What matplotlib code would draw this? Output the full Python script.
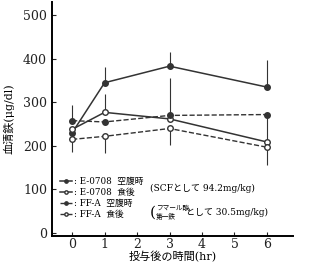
import numpy as np
import matplotlib
matplotlib.use("Agg")
import matplotlib.pyplot as plt

plt.rcParams['font.family'] = ['DejaVu Serif', 'Noto Sans CJK JP']

hours = [0, 1, 3, 6]

# E-0708 fasting / postprandial, FF-A fasting / postprandial  (ug/dl)
e_fast = [230, 345, 383, 335]
e_fast_up = [0, 36, 32, 62]
e_post = [238, 277, 262, 209]
e_post_up = [0, 42, 93, 0]
f_fast = [258, 255, 270, 272]
f_fast_up = [36, 0, 0, 0]
f_fast_dn = [0, 0, 0, 65]
f_post = [215, 222, 240, 197]
f_post_dn = [29, 39, 38, 41]

labels = [': E-0708  空腹時', ': E-0708  食後', ': FF-A  空腹時', ': FF-A  食後']

fig = plt.figure(figsize=(3.15, 2.65), dpi=100)
ax = fig.add_axes([0.165, 0.109, 0.765, 0.883])
c = '#333333'

ax.errorbar(hours, e_fast, yerr=[np.zeros(4), e_fast_up], fmt='none', ecolor=c, elinewidth=0.8)
ax.errorbar(hours, e_post, yerr=[np.zeros(4), e_post_up], fmt='none', ecolor=c, elinewidth=0.8)
ax.errorbar(hours, f_fast, yerr=[f_fast_dn, f_fast_up], fmt='none', ecolor=c, elinewidth=0.8)
ax.errorbar(hours, f_post, yerr=[f_post_dn, np.zeros(4)], fmt='none', ecolor=c, elinewidth=0.8)

h1, = ax.plot(hours, e_fast, '-o', color=c, lw=1.1, ms=4, mfc=c, label=labels[0])
h2, = ax.plot(hours, e_post, '-o', color=c, lw=1.1, ms=4, mfc='white', label=labels[1])
h3, = ax.plot(hours, f_fast, '--o', color=c, lw=1.0, ms=4, mfc=c, label=labels[2])
h4, = ax.plot(hours, f_post, '--o', color=c, lw=1.0, ms=4, mfc='white', label=labels[3])

ax.set_xlim(-0.62, 6.8)
ax.set_ylim(-7, 530)
ax.set_xticks(range(7))
ax.set_yticks([0, 100, 200, 300, 400, 500])
ax.tick_params(direction='in', length=3, labelsize=9, colors='#222222')
ax.tick_params(axis='x', pad=1.5)
for s in ['top', 'right']:
    ax.spines[s].set_visible(False)
ax.spines['left'].set_linewidth(1.4)
ax.spines['bottom'].set_linewidth(1.4)

ax.set_xlabel('投与後の時間(hr)', fontsize=8, labelpad=0)
ax.set_ylabel('血清鉄(μg/dl)', fontsize=8, labelpad=6)

leg = ax.legend(handles=[h1, h2, h3, h4], loc='lower left', bbox_to_anchor=(0.01, 0.05),
                frameon=False, fontsize=6.3, handlelength=1.4, handletextpad=0.2,
                labelspacing=0.25, borderpad=0.1, markerscale=0.6)

ax.text(0.405, 0.205, '(SCFとして 94.2mg/kg)', transform=ax.transAxes, fontsize=6.5,
        va='center', ha='left')
ax.text(0.405, 0.10, '(', transform=ax.transAxes, fontsize=11, va='center', ha='left')
ax.text(0.43, 0.10, 'フマール酸\n第一鉄', transform=ax.transAxes, fontsize=4.8,
        va='center', ha='left', linespacing=1.1)
ax.text(0.555, 0.10, 'として 30.5mg/kg)', transform=ax.transAxes, fontsize=6.5,
        va='center', ha='left')

plt.savefig('out.png', dpi=100)
